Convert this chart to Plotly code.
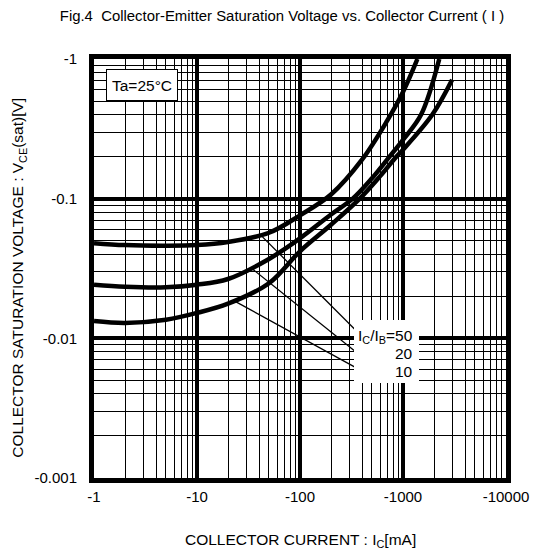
import numpy as np
import plotly.graph_objects as go

# ---- data (values as printed on the chart: negative currents / voltages) ----
IC_50 = [-1, -2, -5, -10, -20, -50, -100, -200, -400, -700, -1000, -1380]
VCE_50 = [-0.048, -0.0465, -0.046, -0.0465, -0.049, -0.057, -0.076, -0.107, -0.19, -0.36, -0.58, -1.0]

IC_20 = [-1, -2, -5, -10, -20, -50, -100, -200, -325, -500, -740, -1000, -1500, -2250]
VCE_20 = [-0.0242, -0.0234, -0.0232, -0.0242, -0.0266, -0.037, -0.052, -0.077, -0.1, -0.14, -0.2, -0.264, -0.4, -1.0]

IC_10 = [-1, -2, -5, -10, -20, -50, -100, -200, -380, -600, -865, -1000, -1930, -3000]
VCE_10 = [-0.0133, -0.0129, -0.0136, -0.0152, -0.0177, -0.0248, -0.042, -0.065, -0.1, -0.145, -0.2, -0.224, -0.4, -0.71]

# leader lines from curves to the IC/IB labels
LEADER_50_IC = [-43, -340]
LEADER_50_V = [-0.0535, -0.0116]
LEADER_20_IC = [-35, -340]
LEADER_20_V = [-0.0311, -0.0081]
LEADER_10_IC = [-22.5, -406]
LEADER_10_V = [-0.0187, -0.0058]

X_TICKS = [1, 10, 100, 1000, 10000]
X_TICKTEXT = ["-1", "-10", "-100", "-1000", "-10000"]
Y_TICKS = [0.001, 0.01, 0.1, 1]
Y_TICKTEXT = ["-0.001", "-0.01", "-0.1", "-1"]

RATIO_LABELS = ["I<sub>C</sub>/I<sub>B</sub>=50", "20", "10"]

FONT = "Arial, Liberation Sans, sans-serif"
FS = 15.5
TICK_FS = 15

fig = go.Figure()

for ic, v in [(IC_50, VCE_50), (IC_20, VCE_20), (IC_10, VCE_10)]:
    fig.add_trace(go.Scatter(
        x=np.abs(ic), y=np.abs(v), mode="lines",
        line=dict(color="black", width=4.5, shape="spline", smoothing=1.0),
        showlegend=False, hoverinfo="skip"))

for lx, ly in [(LEADER_50_IC, LEADER_50_V), (LEADER_20_IC, LEADER_20_V), (LEADER_10_IC, LEADER_10_V)]:
    fig.add_trace(go.Scatter(
        x=np.abs(lx), y=np.abs(ly), mode="lines",
        line=dict(color="black", width=1.3),
        showlegend=False, hoverinfo="skip"))

minor_x = [m * 10 ** d for d in range(0, 4) for m in range(2, 10)]
minor_y = [m * 10 ** d for d in range(-3, 0) for m in range(2, 10)]

axis_common = dict(
    type="log", showline=True, linewidth=5, linecolor="black", mirror=True,
    showgrid=True, gridcolor="black", gridwidth=4, ticks="",
    tickfont=dict(family=FONT, size=TICK_FS, color="black"),
    zeroline=False,
)

fig.update_xaxes(
    range=[0, 4], tickmode="array", tickvals=X_TICKS, ticktext=X_TICKTEXT,
    minor=dict(tickmode="array", tickvals=minor_x, showgrid=True, gridcolor="black", gridwidth=1, ticks=""),
    ticklabelstandoff=1,
    **axis_common)
fig.update_yaxes(
    range=[-3, 0], tickmode="array", tickvals=Y_TICKS, ticktext=Y_TICKTEXT,
    minor=dict(tickmode="array", tickvals=minor_y, showgrid=True, gridcolor="black", gridwidth=1, ticks=""),
    ticklabelstandoff=9,
    **axis_common)

# white box behind the ratio labels
fig.add_annotation(text=" ", xref="paper", yref="paper", x=0.7105, y=0.301,
                   xanchor="center", yanchor="middle", showarrow=False,
                   bgcolor="white", borderwidth=0, width=63, height=61)

for lbl, yy in zip(RATIO_LABELS, [0.338, 0.297, 0.254]):
    fig.add_annotation(text=lbl, xref="paper", yref="paper", x=0.778, y=yy,
                       xanchor="right", yanchor="middle", showarrow=False,
                       font=dict(family=FONT, size=FS, color="black"))

fig.add_annotation(text="Ta=25°C", xref="paper", yref="paper", x=0.117, y=0.937,
                   xanchor="center", yanchor="middle", showarrow=False,
                   bgcolor="white", bordercolor="black", borderwidth=1,
                   width=68, height=28,
                   font=dict(family=FONT, size=FS, color="black"))

fig.add_annotation(text="COLLECTOR CURRENT : I<sub>C</sub>[mA]", xref="paper", yref="paper",
                   x=0.500, y=-0.149, xanchor="center", yanchor="middle", showarrow=False,
                   font=dict(family=FONT, size=FS, color="black"))
fig.add_annotation(text="COLLECTOR SATURATION VOLTAGE : V<sub>CE</sub>(sat)[V]", xref="paper", yref="paper",
                   x=-0.182, y=0.478, xanchor="center", yanchor="middle", showarrow=False,
                   textangle=-90,
                   font=dict(family=FONT, size=FS, color="black"))

fig.update_layout(
    width=542, height=555,
    margin=dict(l=94, r=36, t=59, b=77),
    paper_bgcolor="white", plot_bgcolor="white",
    title=dict(text="Fig.4  Collector-Emitter Saturation Voltage vs. Collector Current ( I )",
               x=282 / 542, xanchor="center", xref="container",
               y=1 - 16 / 555, yanchor="middle", yref="container",
               font=dict(family=FONT, size=14.9, color="black")),
    showlegend=False,
)

fig.write_html("out.html", config={"displayModeBar": False},
               post_script="document.body.style.margin='0';document.body.style.padding='0';")
